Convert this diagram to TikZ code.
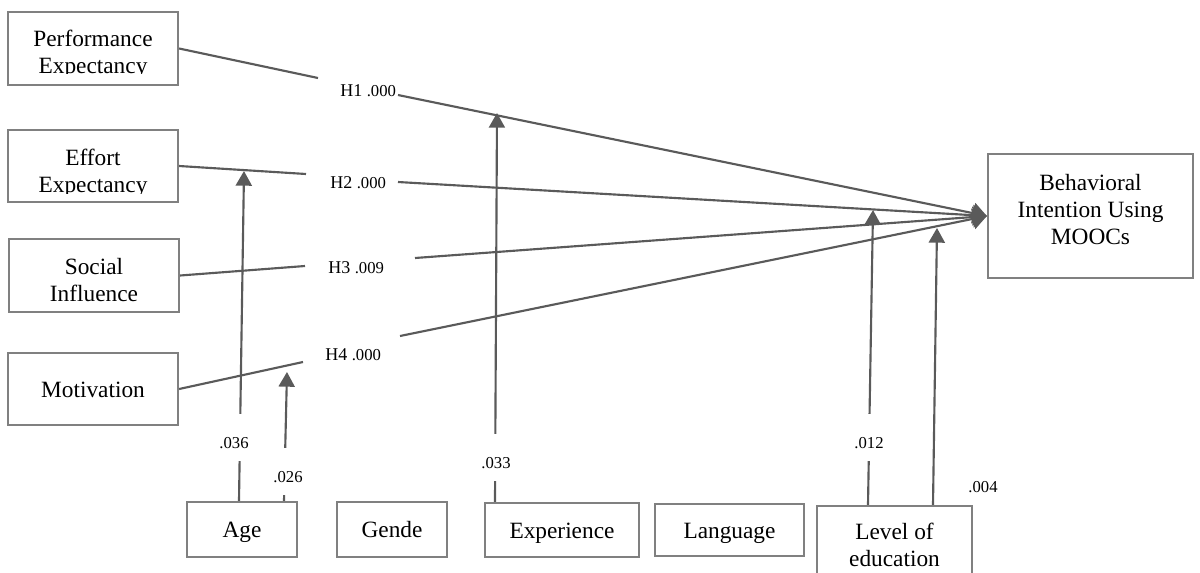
\documentclass[tikz,border=0pt]{standalone}
\usepackage{fontspec}
\setmainfont{Liberation Serif}
\usetikzlibrary{arrows.meta}
\definecolor{boxgray}{HTML}{808080}
\definecolor{linegray}{HTML}{5A5A5A}
\begin{document}
\begin{tikzpicture}[x=0.75pt,y=-0.75pt,
  box/.style={draw=boxgray, line width=1.7pt, inner sep=0pt, align=center, font=\fontsize{17.5}{20.25}\selectfont},
  onebox/.style={box, text height=13pt, text depth=1pt},
  conn/.style={draw=linegray, line width=1.6pt},
  modarrow/.style={conn, -{Triangle[length=11pt,width=12pt]}},
  mainarrow/.style={conn, -{Triangle[length=10.5pt,width=15.5pt]}},
  hlab/.style={anchor=west, inner sep=0pt, font=\fontsize{13.5}{15}\selectfont},
  plab/.style={fill=white, inner sep=0pt, anchor=base, text height=26pt, text depth=9pt, font=\fontsize{12.5}{14}\selectfont},
  btext/.style={inner sep=0pt, align=center, font=\fontsize{17.5}{20.25}\selectfont}
]
\useasboundingbox (0,0) rectangle (1200,572);

% left boxes
\node[box, minimum width=127.5pt, minimum height=54.75pt] (pe) at (93,48.5) {};
\begin{scope}
  \clip (10,14) rectangle (176,73.5);
  \node[btext] (petext) at (93,54) {Performance\\Expectancy};
\end{scope}
\node[box, minimum width=127.5pt, minimum height=54pt] (ee) at (93,166) {};
\begin{scope}
  \clip (10,132) rectangle (176,193);
  \node[btext] (eetext) at (93,173) {Effort\\Expectancy};
\end{scope}
\node[box, minimum width=127.5pt, minimum height=54.75pt] (si) at (94,275.5) {};
\node[btext] (sitext) at (94,280) {Social\\Influence};
\node[onebox, minimum width=127.5pt, minimum height=54pt] (mot) at (93,389) {Motivation};

% right box
\node[box, minimum width=153.75pt, minimum height=93pt] (bi) at (1090.5,216) {};
\node[btext] (bitext) at (1090.5,210) {Behavioral\\Intention Using\\MOOCs};

% bottom boxes
\node[onebox, minimum width=82.5pt, minimum height=41.25pt] (age) at (242,529.5) {Age};
\node[onebox, minimum width=82.5pt, minimum height=41.25pt] (gen) at (392,529.5) {Gende};
\node[onebox, minimum width=115.5pt, minimum height=40.5pt] (exp) at (562,530) {Experience};
\node[onebox, minimum width=111.75pt, minimum height=39pt] (lang) at (729.5,530) {Language};
\node[box, minimum width=116.25pt, minimum height=85.5pt] (lev) at (894.5,563) {};
\node[btext] (levtext) at (894.5,545) {Level of\\education};

% hypothesis labels
\node[hlab] (h1) at (340,91) {H1 {\fontsize{12.5}{14}\selectfont .000}};
\node[hlab] (h2) at (330,183) {H2 {\fontsize{12.5}{14}\selectfont .000}};
\node[hlab] (h3) at (328,268) {H3 {\fontsize{12.5}{14}\selectfont .009}};
\node[hlab] (h4) at (325,355) {H4 {\fontsize{12.5}{14}\selectfont .000}};

% connector end points
\coordinate (h1in) at (318,78);  \coordinate (h1out) at (398,95);
\coordinate (h2in) at (306,174); \coordinate (h2out) at (398,182);
\coordinate (h3in) at (305,266); \coordinate (h3out) at (415,258);
\coordinate (h4in) at (303,362); \coordinate (h4out) at (400,336);

\draw[conn] (pe.east) -- (h1in);
\draw[conn] (ee.east) -- (h2in);
\draw[conn] (si.east) -- (h3in);
\draw[conn] (mot.east) -- (h4in);
\draw[mainarrow] (h1out) -- (bi.west);
\draw[mainarrow] (h2out) -- (bi.west);
\draw[mainarrow] (h3out) -- (bi.west);
\draw[mainarrow] (h4out) -- (bi.west);

% moderator arrows
\coordinate (m1) at (244,171);
\coordinate (m2) at (287,372);
\coordinate (m3) at (497,113);
\coordinate (m4) at (873,210);
\coordinate (m5) at (937,228);
\draw[modarrow] ([xshift=-2.25pt]age.north) -- (m1);
\draw[modarrow] ([xshift=31.5pt]age.north) -- (m2);
\draw[modarrow] ([xshift=-50.25pt]exp.north) -- (m3);
\draw[modarrow] ([xshift=-19.875pt]lev.north) -- (m4);
\draw[modarrow] ([xshift=28.875pt]lev.north) -- (m5);

% moderator labels
\node[plab] (p1) at (234,448.5) {.036};
\node[plab] (p2) at (288,482.5) {.026};
\node[plab] (p3) at (496,468.5) {.033};
\node[plab] (p4) at (869,448.5) {.012};
\node[inner sep=0pt, font=\fontsize{12.5}{14}\selectfont] (p5) at (983,487) {.004};
\end{tikzpicture}
\end{document}
